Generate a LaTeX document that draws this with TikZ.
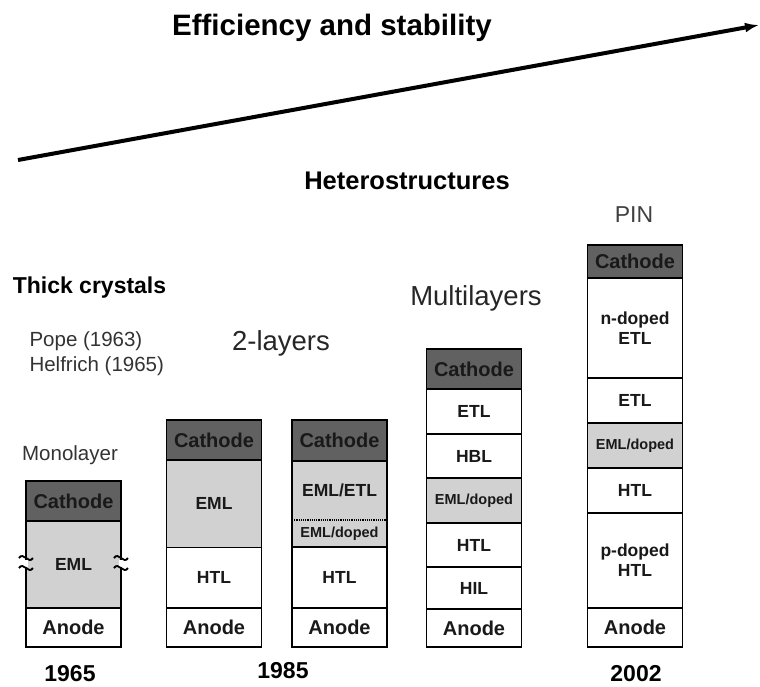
\documentclass[tikz,border=0pt]{standalone}
\usepackage{fontspec}
\setmainfont{Liberation Sans}
\usetikzlibrary{arrows.meta,positioning}

\begin{document}
\begin{tikzpicture}[x=1pt, y=-1pt,
    layer/.style={draw, line width=1.6pt, minimum width=95pt, inner sep=0pt, outer sep=0pt,
        fill=white, text=black!90, align=center, font=\bfseries\fontsize{17.5}{20}\selectfont},
    cathode/.style={layer, fill=black!62, font=\bfseries\fontsize{20}{22}\selectfont},
    anode/.style={layer, font=\bfseries\fontsize{20}{22}\selectfont},
    eml/.style={layer, fill=black!18},
    doped/.style={font=\bfseries\fontsize{14.5}{16}\selectfont},
    year/.style={font=\bfseries\fontsize{23}{25}\selectfont},
    label/.style={text=black!80, font=\fontsize{20.5}{24}\selectfont},
    group/.style={text=black!85, font=\fontsize{27.5}{30}\selectfont},
    brk/.style={line width=1.8pt},
    trend/.style={-{Latex[length=14pt,width=10pt]}, line width=4pt}
]
\useasboundingbox (0,0) rectangle (760,686);

% Trend arrow
\coordinate (trendS) at (18,160);
\coordinate (trendE) at (759,25);
\draw[trend] (trendS) -- (trendE);
\node[font=\bfseries\fontsize{29.5}{31}\selectfont] (title) at (332,28) {Efficiency and stability};
\node[font=\bfseries\fontsize{25.5}{27}\selectfont] (hetero) at (407,181) {Heterostructures};

% Thick crystals
\node[font=\bfseries\fontsize{23}{25}\selectfont] (thick) at (89.5,288) {Thick crystals};
\node[label, anchor=west] (pope) at (26,341) {Pope (1963)};
\node[label, anchor=west] (helf) at (26,366) {Helfrich (1965)};

% Monolayer
\node[label] (monolbl) at (70,455) {Monolayer};
\node[cathode, minimum height=40] (mc) at (73.5,501) {Cathode};
\node[eml, minimum height=87] (me) at (73.5,564.5) {EML};
\node[anode, minimum height=39] (ma) at (73.5,627.5) {Anode};
\fill[white] (24.4,559.5) rectangle (27.6,566.5);
\fill[white] (119.4,559.5) rectangle (122.6,566.5);
\draw[brk] (19,558) .. controls (23.5,551) and (28.5,565) .. (33,558);
\draw[brk] (19,568) .. controls (23.5,561) and (28.5,575) .. (33,568);
\draw[brk] (114,558) .. controls (118.5,551) and (123.5,565) .. (128,558);
\draw[brk] (114,568) .. controls (118.5,561) and (123.5,575) .. (128,568);
\node[year] (y1965) at (70,674) {1965};

% 2-layers
\node[group] (twolbl) at (281,343) {2-layers};
\node[cathode, minimum height=40] (ac) at (214,440) {Cathode};
\node[eml, minimum height=87.5] (ae) at (214,503.75) {EML};
\node[layer, minimum height=60.5] (ah) at (214,577.75) {HTL};
\node[anode, minimum height=39] (aa) at (214,627.5) {Anode};

\node[cathode, minimum height=41] (bc) at (339.5,440.5) {Cathode};
\node[eml, draw=none, minimum height=59] (bem) at (339.5,490.5) {EML/ETL};
\node[eml, draw=none, doped, minimum height=27] (bed) at (339.5,533.5) {EML/doped};
\draw[line width=1.6pt] (bem.north west) rectangle (bed.south east);
\draw[densely dotted, line width=1.2pt] (bem.south west) -- (bem.south east);
\node[layer, minimum height=61] (bh) at (339.5,577.5) {HTL};
\node[anode, minimum height=39] (ba) at (339.5,627.5) {Anode};
\node[year] (y1985) at (283,671) {1985};

% Multilayers
\node[group] (multlbl) at (476,298) {Multilayers};
\node[cathode, minimum height=40] (lc) at (474,369) {Cathode};
\node[layer, minimum height=45] (le) at (474,411.5) {ETL};
\node[layer, minimum height=44] (lb) at (474,456) {HBL};
\node[eml, doped, minimum height=45] (ld) at (474,500.5) {EML/doped};
\node[layer, minimum height=44] (lh) at (474,545) {HTL};
\node[layer, minimum height=42] (li) at (474,588) {HIL};
\node[anode, minimum height=38] (la) at (474,628) {Anode};

% PIN
\node[text=black!75, font=\fontsize{23}{25}\selectfont] (pinlbl) at (634,215) {PIN};
\node[cathode, minimum height=33] (pc) at (635,261.5) {Cathode};
\node[layer, minimum height=100] (pn) at (635,328) {n-doped\\ETL};
\node[layer, minimum height=45] (pe) at (635,400.5) {ETL};
\node[eml, doped, minimum height=45] (pd) at (635,445.5) {EML/doped};
\node[layer, minimum height=45] (ph) at (635,490.5) {HTL};
\node[layer, minimum height=95] (pp) at (635,560.5) {p-doped\\HTL};
\node[anode, minimum height=39] (pa) at (635,627.5) {Anode};
\node[year] (y2002) at (636,674) {2002};

\end{tikzpicture}
\end{document}
